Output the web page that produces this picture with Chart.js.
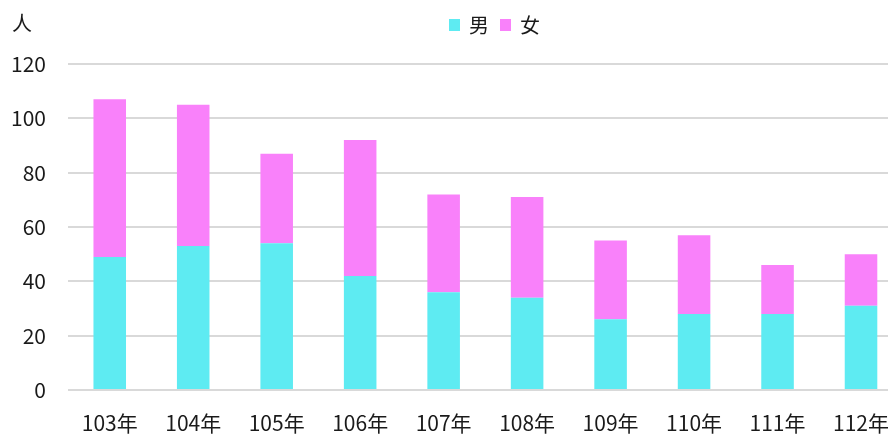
<!DOCTYPE html>
<html>
<head>
<meta charset="utf-8">
<script src="https://cdn.jsdelivr.net/npm/chart.js@4"></script>
<style>
    html, body { margin: 0; padding: 0; background: #fff; overflow: hidden; }
    body { width: 888px; height: 441px; position: relative; font-family: "Noto Sans CJK TC", sans-serif; color: #1a1a1a; }
    #wrap { position: absolute; left: 0; top: 0; width: 909px; height: 441px; }
    #unit { position: absolute; left: 12px; top: 8px; font-size: 20px; }
    #legend { position: absolute; left: 449px; top: 10px; font-size: 20px; display: flex; align-items: center; }
    #legend .box { width: 11px; height: 12px; display: inline-block; margin-right: 9px; }
    #legend .item { display: flex; align-items: center; margin-right: 11px; }
</style>
</head>
<body>
<div id="wrap"><canvas id="chart"></canvas></div>
<div id="unit">人</div>
<div id="legend">
    <span class="item"><span class="box" style="background:#5eebf2"></span>男</span>
    <span class="item"><span class="box" style="background:#f981fa"></span>女</span>
</div>
<script>
const years = ['103年', '104年', '105年', '106年', '107年', '108年', '109年', '110年', '111年', '112年']
const male = [49, 53, 54, 42, 36, 34, 26, 28, 28, 31]
const female = [58, 52, 33, 50, 36, 37, 29, 29, 18, 19]
const yTicks = [0, 20, 40, 60, 80, 100, 120]

const tickFont = { family: '"Noto Sans CJK TC", sans-serif', size: 21 }

const ctx = document.getElementById('chart').getContext('2d');
const myChart = new Chart(ctx, {
    type: 'bar',
    data: {
        labels: years,
        datasets: [{
            label: '男',
            data: male,
            backgroundColor: '#5eebf2',
            barPercentage: 0.39,
            categoryPercentage: 1
        }, {
            label: '女',
            data: female,
            backgroundColor: '#f981fa',
            barPercentage: 0.39,
            categoryPercentage: 1
        }]
    },
    options: {
        responsive: true,
        maintainAspectRatio: false,
        animation: false,
        layout: { padding: { top: 64, left: 0, right: 0, bottom: 0 } },
        plugins: {
            legend: { display: false },
            tooltip: { enabled: false }
        },
        scales: {
            x: {
                stacked: true,
                grid: { display: false, drawTicks: false },
                border: { display: false },
                ticks: { color: '#1a1a1a', font: tickFont, padding: 20, maxRotation: 0 },
                afterFit: scale => { scale.height = 51 }
            },
            y: {
                stacked: true,
                min: 0,
                max: 120,
                afterBuildTicks: scale => { scale.ticks = yTicks.map(v => ({ value: v })) },
                grid: { color: '#d9d9d9', lineWidth: 2, drawTicks: false },
                border: { display: false },
                ticks: { color: '#1a1a1a', font: tickFont, padding: 22 },
                afterFit: scale => { scale.width = 68 }
            }
        }
    }
});
</script>
</body>
</html>
